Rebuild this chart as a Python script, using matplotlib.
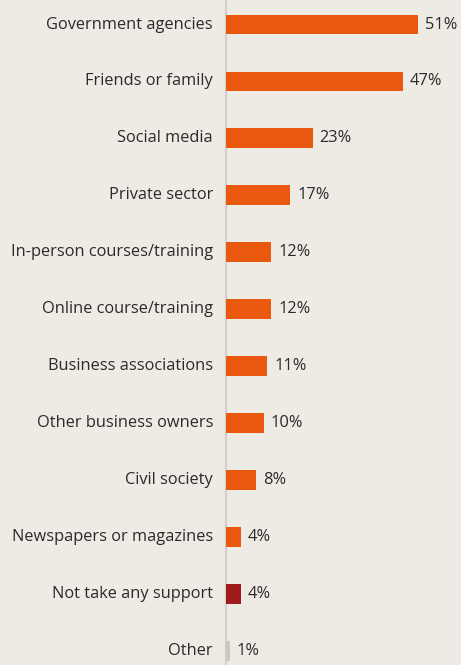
import matplotlib.pyplot as plt
from matplotlib.transforms import offset_copy

# ── Data ──────────────────────────────────────────────────────────────────────
sources = [
    "Government agencies",
    "Friends or family",
    "Social media",
    "Private sector",
    "In-person courses/training",
    "Online course/training",
    "Business associations",
    "Other business owners",
    "Civil society",
    "Newspapers or magazines",
    "Not take any support",
    "Other",
]
shares = [51, 47, 23, 17, 12, 12, 11, 10, 8, 4, 4, 1]

# ── Style ─────────────────────────────────────────────────────────────────────
BG     = "#EEEBE5"
ORANGE = "#EA5910"
DARKRED = "#A01B1B"
GREY   = "#C9C7C4"
TEXT   = "#2A2A2A"
AXIS   = "#D3D0CB"
FS     = 11.8

colors = [ORANGE] * len(sources)
colors[sources.index("Not take any support")] = DARKRED
colors[sources.index("Other")] = GREY

plt.rcParams["font.family"] = ["Open Sans", "DejaVu Sans"]

fig = plt.figure(figsize=(4.61, 6.65), dpi=100)
fig.patch.set_facecolor(BG)
ax = fig.add_axes([226 / 461, 0, 1 - 226 / 461, 1])
ax.set_facecolor(BG)

ypos = list(range(len(sources)))
ax.barh(ypos, shares, height=0.35, color=colors, zorder=3)

ax.set_xlim(0, 62.4)
ax.set_ylim(11.24, -0.43)

for y, v, name in zip(ypos, shares, sources):
    ax.text(v, y, f"{v}%", transform=offset_copy(ax.transData, fig=fig, x=7, y=0, units="dots"),
            va="center", ha="left", fontsize=FS, color=TEXT)
    ax.text(0, y, name, transform=offset_copy(ax.transData, fig=fig, x=-13, y=0, units="dots"),
            va="center", ha="right", fontsize=FS, color=TEXT, clip_on=False)

for side in ["top", "right", "bottom"]:
    ax.spines[side].set_visible(False)
ax.spines["left"].set_color(AXIS)
ax.spines["left"].set_linewidth(1.6)
ax.set_xticks([])
ax.set_yticks([])

fig.savefig("out.png", dpi=100, facecolor=BG)
